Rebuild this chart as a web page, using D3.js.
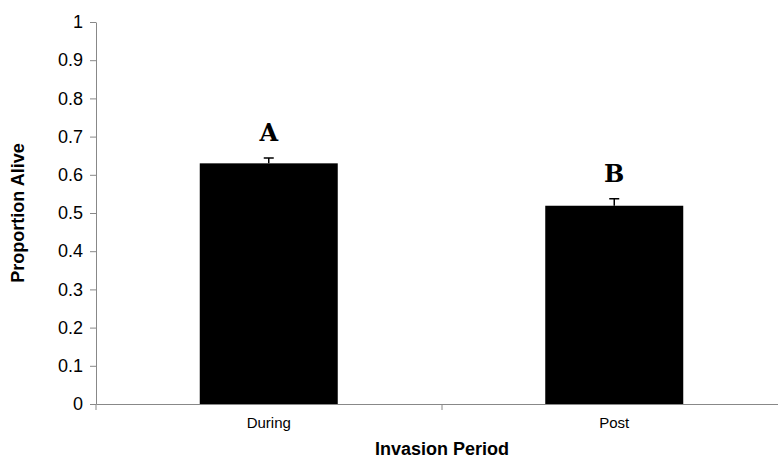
<!DOCTYPE html>
<html><head><meta charset="utf-8">
<script src="https://cdn.jsdelivr.net/npm/d3@7"></script>
<style>body{margin:0;background:#fff}</style>
</head><body>
<script>
var categories = ["During", "Post"];
var values = [0.63, 0.519];
var errors = [0.014, 0.018];
var letters = ["A", "B"];
var yTicks = [0, 0.1, 0.2, 0.3, 0.4, 0.5, 0.6, 0.7, 0.8, 0.9, 1];

var svg = d3.select("body").append("svg").attr("width", 778).attr("height", 464);
var x = d3.scaleBand().domain(categories).range([96, 787]).paddingInner(0).paddingOuter(0);
var y = d3.scaleLinear().domain([0, 1]).range([404, 22]);

var yAxis = svg.append("g").attr("transform", "translate(96,0)")
  .call(d3.axisLeft(y).tickValues(yTicks).tickFormat(d3.format("")).tickSize(6).tickSizeOuter(0));
yAxis.selectAll("text").attr("font-family", "Arial, Liberation Sans, sans-serif").attr("font-size", 18).attr("fill", "#000").attr("dx", "-4");
yAxis.select(".domain").attr("stroke", "#888");
yAxis.selectAll("line").attr("stroke", "#888");

var xAxis = svg.append("g").attr("transform", "translate(0,404)")
  .call(d3.axisBottom(x).tickSize(0).tickSizeOuter(0));
xAxis.select(".domain").attr("stroke", "#888");
xAxis.selectAll("text").attr("font-family", "Arial, Liberation Sans, sans-serif").attr("font-size", 15).attr("fill", "#000").attr("dy", "1.4em");
// boundary ticks
svg.selectAll(".bt").data([96, 442, 787]).enter().append("line")
  .attr("x1", d => d).attr("x2", d => d).attr("y1", 404).attr("y2", 410).attr("stroke", "#888");

var bw = 138;
svg.selectAll("rect.bar").data(values).enter().append("rect")
  .attr("x", (d, i) => x(categories[i]) + x.bandwidth() / 2 - bw / 2)
  .attr("width", bw)
  .attr("y", d => y(d)).attr("height", d => y(0) - y(d)).attr("fill", "#000");

svg.selectAll("path.err").data(values).enter().append("path")
  .attr("d", (d, i) => {
    var cx = x(categories[i]) + x.bandwidth() / 2, t = y(d + errors[i]);
    return "M" + cx + "," + y(d) + "V" + t + "M" + (cx - 5) + "," + t + "H" + (cx + 5);
  }).attr("stroke", "#000").attr("stroke-width", 1.5).attr("fill", "none");

svg.selectAll("text.let").data(letters).enter().append("text")
  .attr("x", (d, i) => x(categories[i]) + x.bandwidth() / 2)
  .attr("y", (d, i) => y(values[i] + errors[i]) - 17)
  .attr("text-anchor", "middle").attr("font-family", "DejaVu Serif, serif").attr("font-weight", "bold")
  .attr("font-size", 24).text(d => d);

svg.append("text").attr("x", 442).attr("y", 455).attr("text-anchor", "middle")
  .attr("font-family", "Arial, Liberation Sans, sans-serif").attr("font-weight", "bold").attr("font-size", 18)
  .text("Invasion Period");
svg.append("text").attr("transform", "translate(24,213) rotate(-90)").attr("text-anchor", "middle")
  .attr("font-family", "Arial, Liberation Sans, sans-serif").attr("font-weight", "bold").attr("font-size", 18)
  .text("Proportion Alive");
</script>
</body></html>
